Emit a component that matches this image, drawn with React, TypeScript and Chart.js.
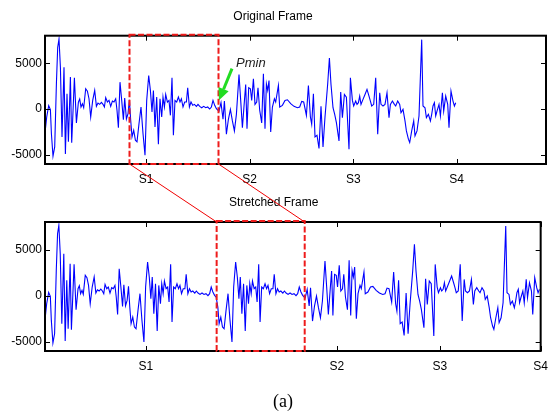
import React, { useEffect, useRef } from 'react';
import { Chart, registerables } from 'chart.js';

Chart.register(...registerables);

// ---- data (sample index, amplitude) ----
const ORIG_T = [
  0, 17, 37, 54, 64, 80, 97, 114, 127, 140, 154, 170, 190, 204, 220, 234, 254, 267, 294, 314,
  334, 347, 360, 374, 387, 407, 424, 440, 457, 477, 497, 514, 530, 547, 564, 580, 594, 607, 624, 640,
  657, 674, 690, 707, 720, 734, 750, 767, 784, 797, 814, 830, 844, 857, 870, 887, 904, 920, 940, 960,
  980, 1000, 1017, 1037, 1054, 1070, 1084, 1100, 1117, 1134, 1150, 1167, 1180, 1194, 1207, 1224, 1240, 1254, 1270, 1284,
  1300, 1317, 1334, 1350, 1364, 1380, 1397, 1414, 1427, 1444, 1460, 1477, 1494, 1514, 1530, 1547, 1567, 1587, 1607, 1627,
  1647, 1664, 1680, 1697, 1714, 1730, 1740, 1760, 1780, 1794, 1814, 1834, 1854, 1874, 1894, 1914, 1940, 1957, 1974, 1994,
  2007, 2020, 2037, 2054, 2067, 2084, 2100, 2117, 2130, 2147, 2167, 2184, 2200, 2214, 2227, 2240, 2257, 2274, 2294, 2307,
  2334, 2347, 2374, 2400, 2424, 2457, 2490, 2524, 2547, 2567, 2587, 2614, 2634, 2654, 2667, 2684, 2700, 2720, 2740, 2760,
  2780, 2800, 2827, 2844, 2860, 2880, 2897, 2914, 2940, 2957, 2974, 2994, 3014, 3040, 3054, 3074, 3087, 3107, 3120, 3134,
  3147, 3160, 3180, 3200, 3220, 3240, 3254, 3267, 3287, 3307, 3327, 3347, 3360, 3380, 3400, 3420, 3440, 3454, 3474, 3494,
  3507, 3527, 3547, 3560, 3580, 3600, 3614, 3634, 3647, 3667, 3687, 3700, 3720, 3740, 3767, 3780, 3800, 3814, 3834, 3854,
  3867, 3880, 3894, 3907, 3920, 3940, 3954, 3974, 3987, 4007, 4027, 4040, 4060, 4080, 4094, 4107,
];
const ORIG_V = [
  -2610, -870, 360, -70, -2680, -5140, -4130, 2750, 6730, 7640, 4560, -3040, 4560, -4920, 1670, -3580, 3480, -3690, 3400, -1520,
  760, 1090, 220, 580, 140, 2210, 1950, 1120, -870, 940, 2030, 290, 650, 510, 720, 510, 220, 1230, 760, 940,
  290, 870, 760, 1120, -140, -2030, 2930, 940, -1160, 1190, -1090, -510, 1010, -1230, -3040, -2320, -3400, -3580, -1590, 220,
  -2680, -5030, 940, 3660, 2030, -330, 2030, -1950, 1300, -3840, 1120, -870, 1300, 220, 1590, 760, 940, -690, 3400, -2860,
  940, 760, 1300, 760, 1120, 220, 760, 760, 2320, 220, 760, 400, 510, 290, 510, 290, 140, 290, 140, 220,
  0, 220, 940, 400, 40, -140, -220, 690, -1120, 870, -2750, -1120, -40, -1300, -2390, -580, 3770, 940, -2030, 870,
  2680, -2140, 2320, 2210, 940, 3300, 510, 760, 2320, -140, -1520, 3840, -2140, 2750, 2030, 3110, -2500, 220, 1120, 760,
  2570, 220, 400, 940, 1010, 580, 290, 140, 220, 830, 760, -690, 2570, -870, -1670, 1670, -3040, -2860, -4310, 290,
  -4130, -870, 2750, 5570, 2680, 140, -580, -1480, -3480, 1850, -940, 1590, 1300, -4380, 3400, 940, 330, 870, 510, 690,
  1410, 510, 1050, 1590, 2140, 1410, 870, 330, 510, 3400, -2750, 1770, 510, 330, 510, 1770, -940, 510, 870, 510,
  330, 870, 510, -400, -40, -1300, -2390, -3290, -3660, -2390, -1300, -2930, -2390, -760, 7570, 330, 140, -940, -580, -1300,
  -580, 330, 690, -760, -220, 510, -760, 1770, -220, 1410, 510, -2030, 1950, 870, 330, 690,
];

// region copied (box start .. Pmin) and inserted at Pmin in the stretched frame
const BOX_START = 845;
const PMIN = 1735;
const SHIFT = PMIN - BOX_START;

const X_MAX = 5010;
const Y_MIN = -6000;
const Y_MAX = 8000;
const Y_TICKS = [-5000, 0, 5000];
const X_TICK_LABELS = ['S1', 'S2', 'S3', 'S4'];
const TOP_X_TICKS = [1010, 2045, 3083, 4117];
const BOTTOM_X_TICKS = [1020, 2950, 3990, 5010];

// annotation anchors (data units of the top frame)
const ARROW_FROM = { x: 1870, y: 4400 };
const ARROW_TO = { x: 1740, y: 950 };
const PMIN_LABEL = { x: 1910, y: 4950 };

// stretched frame = original up to Pmin, copy of [box start, Pmin), then rest shifted
const STRETCH_T: number[] = [];
const STRETCH_V: number[] = [];
ORIG_T.forEach((t, i) => { if (t < PMIN) { STRETCH_T.push(t); STRETCH_V.push(ORIG_V[i]); } });
ORIG_T.forEach((t, i) => { if (t >= BOX_START && t < PMIN) { STRETCH_T.push(t + SHIFT); STRETCH_V.push(ORIG_V[i]); } });
ORIG_T.forEach((t, i) => { if (t >= PMIN) { STRETCH_T.push(t + SHIFT); STRETCH_V.push(ORIG_V[i]); } });

const FONT = "'Liberation Sans', Arial, Helvetica, sans-serif";
const FS = 12;

const decorPlugin = {
  id: 'decor',
  afterDatasetsDraw(chart: any, _args: any, opts: any) {
    const { ctx, chartArea: a, scales } = chart;
    const xs = scales.x;
    const ys = scales.y;
    ctx.save();
    ctx.strokeStyle = '#000';
    ctx.lineWidth = 2;
    ctx.strokeRect(a.left, a.top, a.right - a.left, a.bottom - a.top);
    ctx.lineWidth = 1;
    ctx.beginPath();
    for (const tk of xs.ticks) {
      const px = Math.round(xs.getPixelForValue(tk.value)) + 0.5;
      ctx.moveTo(px, a.bottom); ctx.lineTo(px, a.bottom - 5);
      ctx.moveTo(px, a.top); ctx.lineTo(px, a.top + 5);
    }
    for (const tk of ys.ticks) {
      const py = Math.round(ys.getPixelForValue(tk.value)) + 0.5;
      ctx.moveTo(a.left, py); ctx.lineTo(a.left + 5, py);
      ctx.moveTo(a.right, py); ctx.lineTo(a.right - 5, py);
    }
    ctx.stroke();

    // dashed red frame
    const x0 = xs.getPixelForValue(opts.box[0]);
    const x1 = xs.getPixelForValue(opts.box[1]);
    ctx.setLineDash([6, 2.5]);
    ctx.strokeStyle = 'rgb(238,28,28)';
    ctx.lineWidth = 2;
    ctx.strokeRect(x0, a.top - 1, x1 - x0, a.bottom - a.top + 1);
    ctx.setLineDash([]);

    if (opts.arrow) {
      const fx = xs.getPixelForValue(ARROW_FROM.x), fy = ys.getPixelForValue(ARROW_FROM.y);
      const tx = xs.getPixelForValue(ARROW_TO.x), ty = ys.getPixelForValue(ARROW_TO.y);
      const dx = tx - fx, dy = ty - fy;
      const len = Math.hypot(dx, dy);
      const ux = dx / len, uy = dy / len;
      const head = 12, half = 5.5;
      const bx = tx - ux * head, by = ty - uy * head;
      ctx.strokeStyle = 'rgb(34,220,34)';
      ctx.fillStyle = 'rgb(34,220,34)';
      ctx.lineWidth = 3;
      ctx.beginPath();
      ctx.moveTo(fx, fy); ctx.lineTo(bx, by);
      ctx.stroke();
      ctx.beginPath();
      ctx.moveTo(tx, ty);
      ctx.lineTo(bx - uy * half, by + ux * half);
      ctx.lineTo(bx + uy * half, by - ux * half);
      ctx.closePath();
      ctx.fill();

      ctx.fillStyle = '#222';
      ctx.font = `italic ${FS + 1}px ${FONT}`;
      ctx.textAlign = 'left';
      ctx.textBaseline = 'middle';
      ctx.fillText('Pmin', xs.getPixelForValue(PMIN_LABEL.x), ys.getPixelForValue(PMIN_LABEL.y));
    }
    ctx.restore();
  },
};

function makeConfig(title: string, ts: number[], vs: number[], xTicks: number[], box: number[], arrow: boolean,
  titlePad: { top: number; bottom: number }, layoutPad: any): any {
  return {
    type: 'line',
    data: {
      datasets: [{
        data: ts.map((x, i) => ({ x, y: vs[i] })),
        borderColor: '#0000ff',
        borderWidth: 1.1,
        pointRadius: 0,
        tension: 0,
        fill: false,
      }],
    },
    options: {
      responsive: false,
      animation: false,
      events: [],
      layout: { padding: layoutPad },
      plugins: {
        legend: { display: false },
        tooltip: { enabled: false },
        title: {
          display: true,
          text: title,
          color: '#000',
          font: { family: FONT, size: FS, weight: 'normal' },
          padding: titlePad,
        },
        decor: { box, arrow },
      },
      scales: {
        x: {
          type: 'linear',
          min: 0,
          max: X_MAX,
          grid: { display: false, drawTicks: false },
          border: { display: false },
          afterBuildTicks: (s: any) => { s.ticks = xTicks.map((value) => ({ value })); },
          afterFit: (s: any) => { s.height = 36; },
          ticks: {
            autoSkip: false,
            maxRotation: 0,
            padding: 8,
            color: '#000',
            font: { family: FONT, size: FS },
            callback: (_v: any, i: number) => X_TICK_LABELS[i],
          },
        },
        y: {
          min: Y_MIN,
          max: Y_MAX,
          grid: { display: false, drawTicks: false },
          border: { display: false },
          afterBuildTicks: (s: any) => { s.ticks = Y_TICKS.map((value) => ({ value })); },
          afterFit: (s: any) => { s.width = 45; },
          ticks: {
            padding: 3,
            color: '#000',
            font: { family: FONT, size: FS },
            callback: (v: any) => String(v),
          },
        },
      },
    },
    plugins: [decorPlugin],
  };
}

export default function App() {
  const topRef = useRef<HTMLCanvasElement>(null);
  const botRef = useRef<HTMLCanvasElement>(null);
  const overRef = useRef<HTMLCanvasElement>(null);

  useEffect(() => {
    const top = new Chart(topRef.current as any, makeConfig('Original Frame', ORIG_T, ORIG_V, TOP_X_TICKS,
      [BOX_START, PMIN], true, { top: 9.8, bottom: 11.5 }, { left: 0, right: 10, top: 0, bottom: 0 }));
    const bot = new Chart(botRef.current as any, makeConfig('Stretched Frame', STRETCH_T, STRETCH_V, BOTTOM_X_TICKS,
      [PMIN, PMIN + SHIFT], false, { top: 5.8, bottom: 11.8 }, { left: 0, right: 8.5, top: 0, bottom: 28 }));

    const oc = overRef.current as HTMLCanvasElement;
    const ctx = oc.getContext('2d') as CanvasRenderingContext2D;
    ctx.clearRect(0, 0, oc.width, oc.height);
    const topY = 0;
    const botY = 190;
    const pairs = [[BOX_START, PMIN], [PMIN, PMIN + SHIFT]];
    ctx.strokeStyle = 'rgb(240,0,0)';
    ctx.lineWidth = 1;
    ctx.beginPath();
    for (const [a, b] of pairs) {
      ctx.moveTo(top.scales.x.getPixelForValue(a), topY + top.chartArea.bottom);
      ctx.lineTo(bot.scales.x.getPixelForValue(b), botY + bot.chartArea.top);
    }
    ctx.stroke();

    return () => { top.destroy(); bot.destroy(); };
  }, []);

  return (
    <div style={{ position: 'fixed', left: 0, top: 0, width: 556, height: 415, background: '#fff' }}>
      <canvas ref={topRef} width={556} height={200} style={{ position: 'absolute', left: 0, top: 0 }} />
      <canvas ref={botRef} width={556} height={225} style={{ position: 'absolute', left: 0, top: 190 }} />
      <canvas ref={overRef} width={556} height={415} style={{ position: 'absolute', left: 0, top: 0, pointerEvents: 'none' }} />
      <div style={{ position: 'absolute', left: 273, top: 390, fontFamily: "'Liberation Serif', 'Times New Roman', serif", fontSize: 18, lineHeight: '22px', color: '#000' }}>(a)</div>
    </div>
  );
}
